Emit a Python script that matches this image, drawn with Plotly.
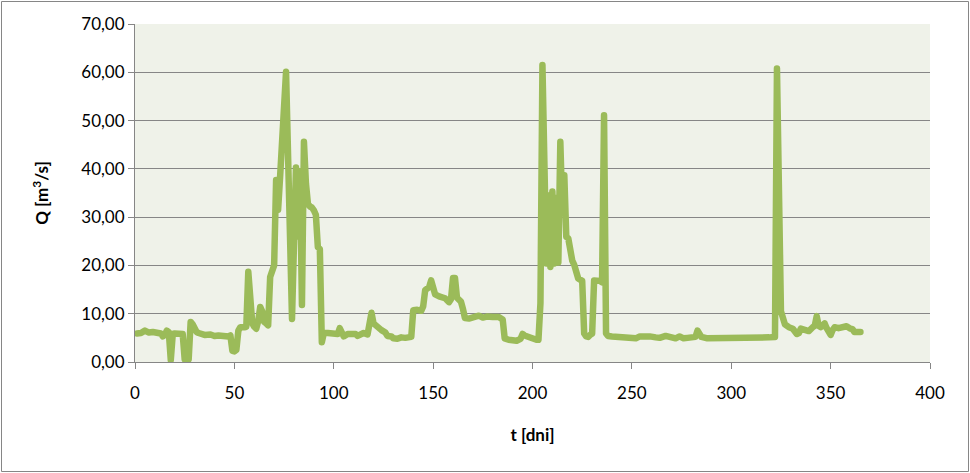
import plotly.graph_objects as go

# Daily discharge Q [m3/s] vs time t [days] (key points)
days = [1, 3, 5, 7, 9, 11, 13, 14, 15, 16, 17, 18, 19, 20, 21, 22, 23, 24, 25, 26, 27, 28, 29, 30,
        31, 32, 35, 38, 40, 42, 45, 47, 48, 49, 50, 51, 52, 53, 55, 56, 57, 58, 59, 60, 61, 62, 63,
        64, 65, 66, 67, 68, 69, 70, 71, 72, 73, 76, 79, 80, 81, 82, 83, 84, 85, 86, 87, 88, 89, 90,
        91, 92, 93, 94, 95, 97, 99, 101, 102, 103, 104, 105, 107, 109, 111, 112, 114, 115, 117, 118,
        119, 120, 121, 123, 124, 126, 127, 129, 130, 132, 134, 136, 138, 139, 140, 141, 142, 144,
        145, 146, 148, 149, 150, 151, 153, 155, 156, 158, 159, 160, 161, 162, 164, 165, 166, 168,
        170, 172, 173, 175, 177, 180, 183, 185, 186, 188, 190, 192, 194, 195, 196, 198, 200, 202,
        203, 204, 205, 206, 207, 208, 209, 210, 211, 212, 213, 214, 215, 216, 217, 218, 219, 220,
        221, 222, 223, 225, 226, 227, 228, 229, 230, 231, 233, 234, 235, 236, 237, 238, 240, 242,
        245, 248, 252, 254, 256, 259, 262, 264, 267, 270, 272, 274, 276, 278, 280, 282, 283, 284,
        285, 288, 292, 296, 299, 305, 310, 312, 319, 322, 323, 325, 326, 327, 329, 331, 333, 334,
        335, 337, 339, 341, 342, 343, 344, 345, 346, 347, 348, 349, 350, 351, 352, 354, 356, 358,
        360, 361, 362, 364, 365]
q = [5.9, 6.0, 6.5, 6.1, 6.2, 6.1, 5.9, 5.3, 5.6, 6.5, 6.2, 0.4, 5.8, 5.9, 5.8, 5.9, 5.7, 5.8, 0.5, 0.2, 0.5, 8.3, 7.8, 6.8,
     6.2, 6.0, 5.6, 5.7, 5.4, 5.5, 5.2, 5.3, 5.5, 2.3, 2.2, 2.5, 6.5, 7.2, 7.2, 7.3, 18.7, 11.0, 8.0, 7.3, 6.9, 8.5, 11.4,
     10.5, 8.3, 8.0, 7.6, 17.6, 18.5, 20.0, 37.7, 31.5, 38.3, 60.1, 8.9, 25.0, 40.3, 26.0, 39.5, 11.8, 45.6, 37.0, 32.8, 32.2, 32.0, 31.4,
     30.5, 23.8, 23.4, 4.1, 6.0, 6.0, 5.8, 5.6, 5.8, 7.0, 5.8, 5.3, 5.8, 5.9, 5.8, 5.4, 5.8, 6.0, 5.7, 7.5,
     10.2, 8.0, 7.6, 7.2, 6.6, 6.1, 5.4, 5.3, 4.9, 4.8, 5.1, 5.0, 5.0, 5.2, 10.7, 10.9, 10.8, 10.6,
     11.5, 14.9, 15.5, 16.9, 14.5, 14.0, 13.6, 13.4, 13.2, 12.4, 13.0, 17.4, 17.4, 13.3, 12.5, 11.0, 9.1, 9.0,
     9.2, 9.3, 9.6, 9.2, 9.4, 9.3, 9.3, 8.8, 4.9, 4.6, 4.5, 4.4, 4.8, 5.8, 5.5, 5.1, 4.9, 4.6,
     4.6, 12.2, 61.5, 40.0, 20.4, 34.5, 19.7, 35.3, 20.4, 34.0, 20.6, 45.6, 31.4, 38.7, 25.9, 25.6, 21.8, 21.0,
     20.1, 19.0, 17.3, 16.8, 5.9, 5.3, 5.2, 5.6, 5.9, 16.9, 16.9, 16.8, 16.5, 51.1, 5.9, 5.4, 5.3, 5.2,
     5.0, 4.9, 4.9, 5.3, 5.4, 5.3, 5.1, 5.0, 5.4, 5.2, 4.9, 5.3, 4.9, 5.0, 5.0, 5.2, 6.5, 5.8,
     5.2, 4.9, 4.9, 5.1, 4.8, 4.8, 4.8, 5.1, 5.1, 5.2, 60.8, 10.5, 8.3, 7.8, 7.2, 6.9, 5.8, 6.0,
     6.9, 6.6, 6.4, 7.2, 7.5, 9.5, 7.5, 7.2, 7.5, 8.0, 7.0, 5.8, 5.6, 6.6, 7.2, 7.0, 7.2, 7.4,
     6.9, 6.8, 6.2, 6.2, 6.2]

y_ticks = [0, 10, 20, 30, 40, 50, 60, 70]
y_labels = ["0,00", "10,00", "20,00", "30,00", "40,00", "50,00", "60,00", "70,00"]
x_ticks = [0, 50, 100, 150, 200, 250, 300, 350, 400]

GRID = "#868686"
FONT = "Lato, 'Open Sans', sans-serif"

fig = go.Figure()
fig.add_trace(go.Scatter(x=days, y=q, mode="lines",
                         line=dict(color="#9BBB59", width=6.5),
                         hoverinfo="skip", showlegend=False))

fig.update_layout(
    width=970, height=473,
    margin=dict(l=135, r=40, t=24, b=111),
    paper_bgcolor="white",
    plot_bgcolor="#EFF2E9",
    font=dict(family=FONT, size=17, color="#000000"),
    xaxis=dict(range=[0, 400], tickvals=x_ticks, ticktext=[str(v) for v in x_ticks],
               showgrid=False, zeroline=False, showline=True, linecolor=GRID, linewidth=1,
               ticks="outside", ticklen=6, tickcolor=GRID, tickwidth=1, ticklabelstandoff=10,
               title=dict(text="<b>t [dni]</b>", standoff=26, font=dict(size=17))),
    yaxis=dict(range=[0, 70], tickvals=y_ticks, ticktext=y_labels,
               showgrid=True, gridcolor=GRID, gridwidth=1, zeroline=False,
               showline=True, linecolor=GRID, linewidth=1,
               ticks="outside", ticklen=6, tickcolor=GRID, tickwidth=1,
               title=dict(text="<b>Q [m<sup>3</sup>/s]</b>", standoff=28, font=dict(size=17))),
    shapes=[dict(type="rect", xref="paper", yref="paper",
                 x0=-133.5 / 795, x1=1 + 38.5 / 795, y0=-109.5 / 338, y1=1 + 22.5 / 338,
                 line=dict(color=GRID, width=1), fillcolor="rgba(0,0,0,0)", layer="below")],
)

fig.write_html("out.html", config={"displayModeBar": False},
               post_script="document.body.style.margin='0';document.body.style.overflow='hidden';"
                           "document.querySelectorAll('.scatterlayer path.js-line').forEach(function(p){p.style.strokeLinejoin='round';p.style.strokeLinecap='round';});")
